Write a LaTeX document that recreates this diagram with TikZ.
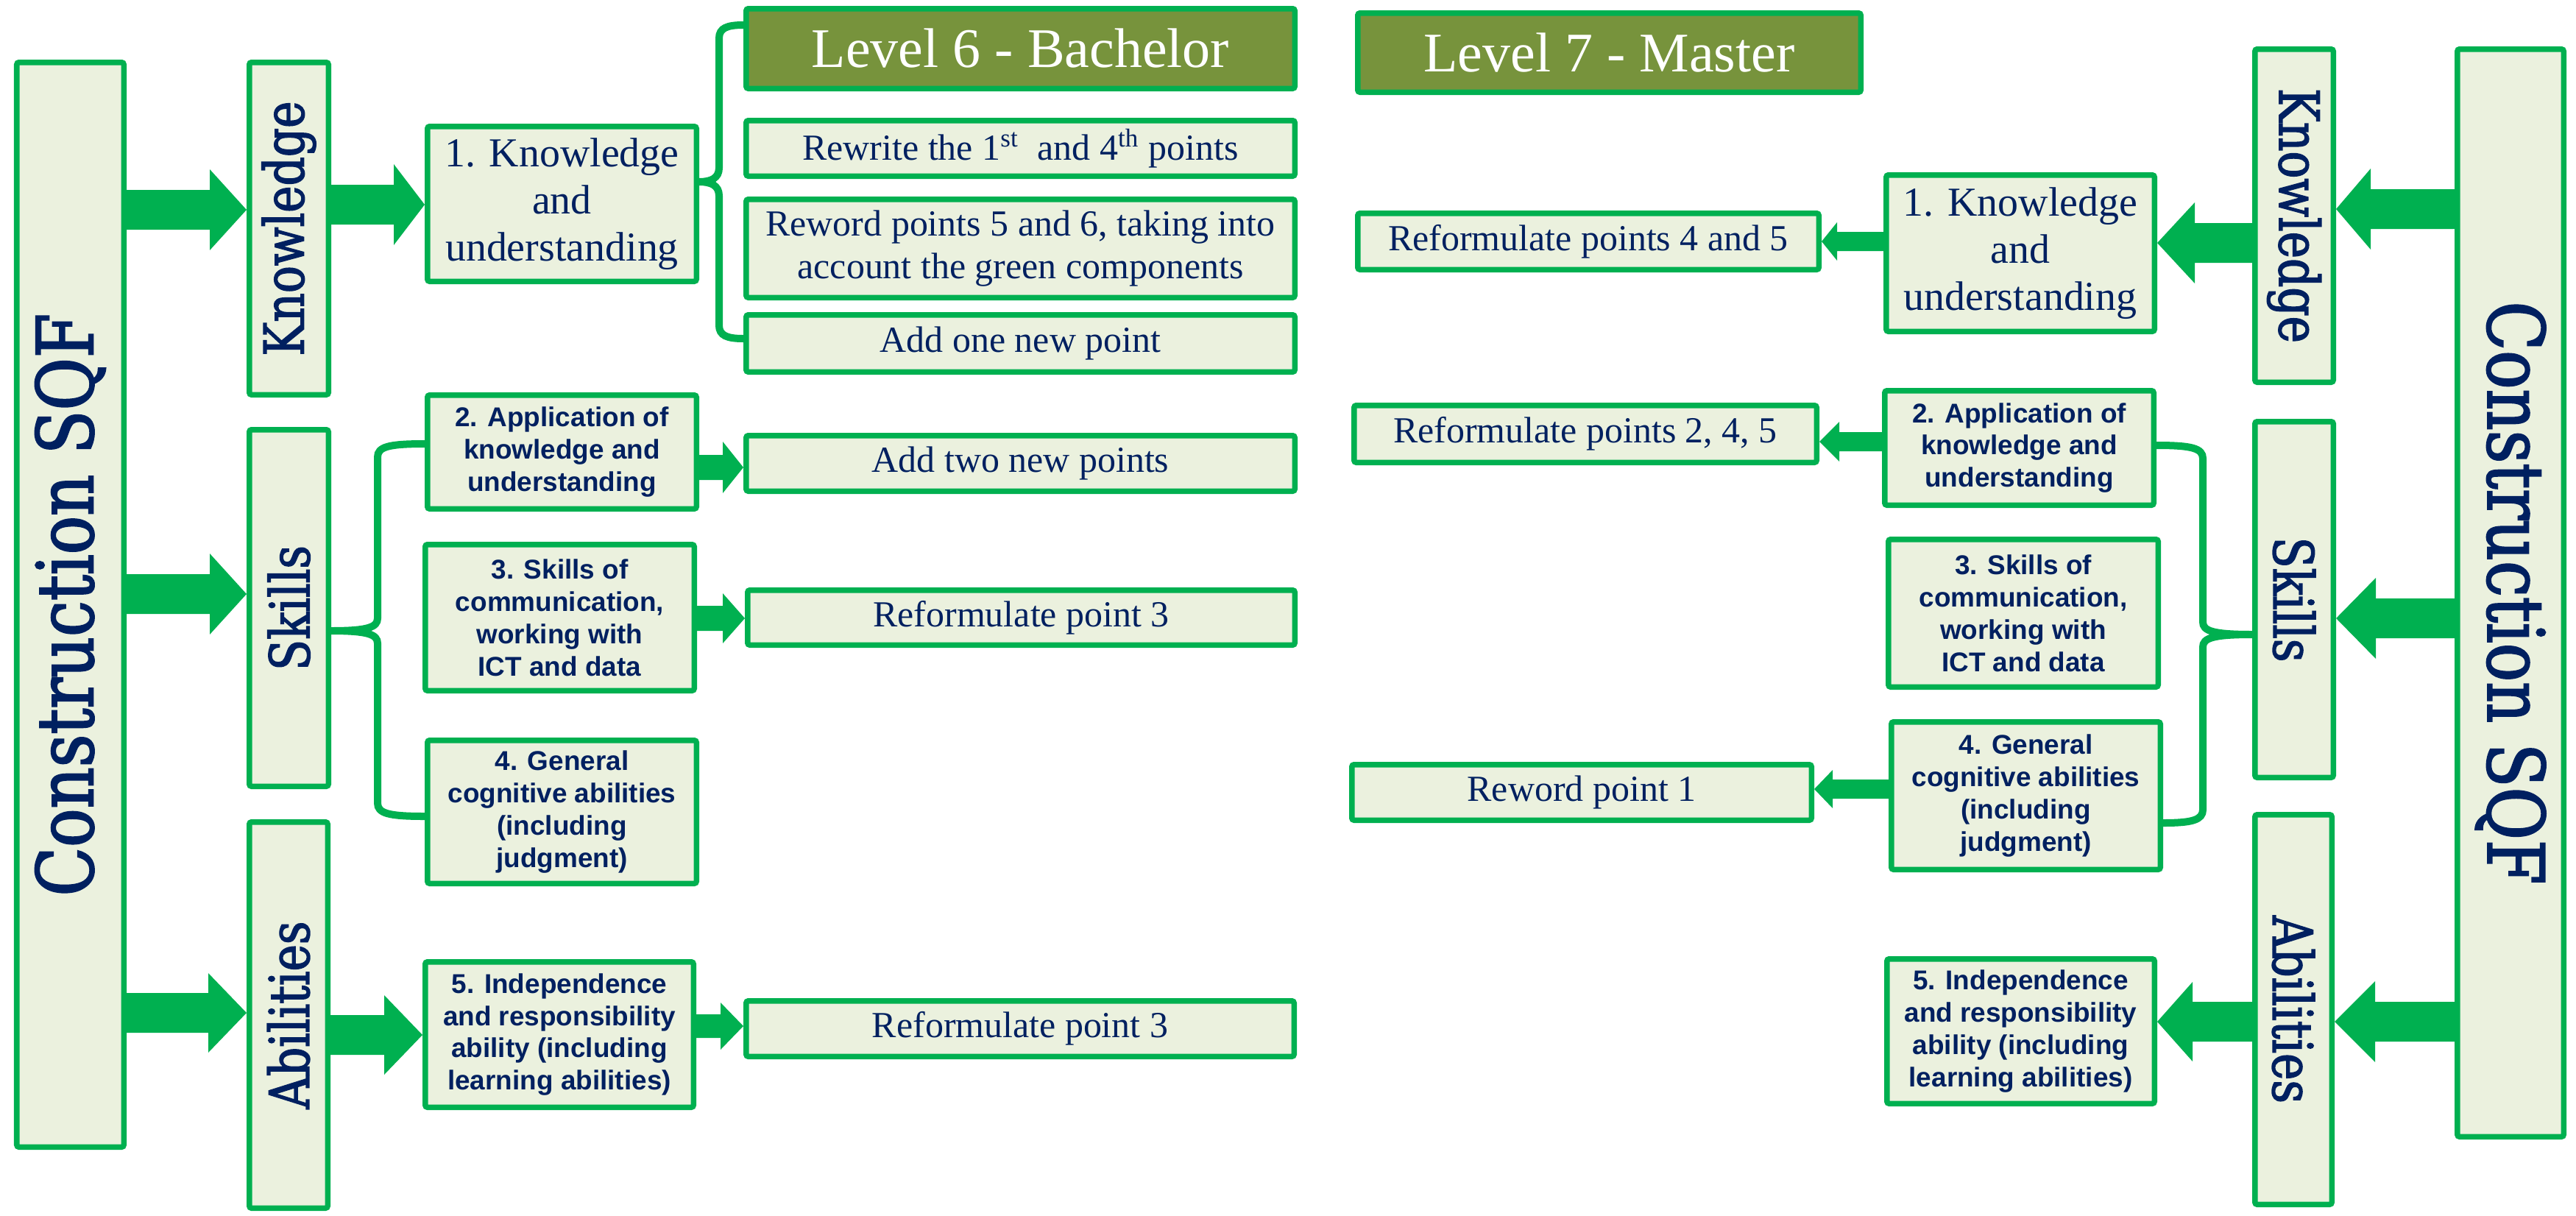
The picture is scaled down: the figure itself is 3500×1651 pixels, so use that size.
\documentclass[tikz,border=0pt]{standalone}
\usepackage{fontspec}
\setmainfont{Liberation Serif}
\newfontfamily\sansb{Liberation Sans}
\newfontfamily\slab{DejaVu Serif}[FakeStretch=0.82,FakeBold=2]
\usetikzlibrary{calc}
\definecolor{grn}{HTML}{00B050}
\definecolor{navy}{HTML}{002060}
\definecolor{pale}{HTML}{EBF1DE}
\definecolor{lvl}{HTML}{77933C}
\tikzset{
 box/.style={draw=grn, fill=pale, line width=0.075cm, rounded corners=0.03cm, inner sep=0pt, align=center, text=navy},
 lvlbox/.style={box, fill=lvl, text=white, font=\fontsize{21.6}{26}\selectfont},
 serif/.style={font=\fontsize{14.2}{16.5}\selectfont},
 kuf/.style={font=\fontsize{15.9}{18.2}\selectfont},
 sans/.style={font=\sansb\bfseries\fontsize{10.5}{12.5}\selectfont},
 brc/.style={draw=grn, line width=0.1cm},
}
\newcommand{\slabS}{\slab\fontsize{21.3}{24}\selectfont}
\newcommand{\slabL}{\slab\fontsize{30.2}{34}\selectfont}
\newcommand{\bx}[7][]{\node[box,#1,minimum width={(#5-#3-7.5)*0.01cm},minimum height={(#6-#4-7.5)*0.01cm}] (#2) at ({(#3+#5)/2},{(#4+#6)/2}) {#7};}
\newcommand{\barr}[6]{%
 \path (#1 |- 0,#3) coordinate (bs) (#2 |- 0,#3) coordinate (be);
 \fill[grn] ($(bs)+(0,-#4)$) -- ($(be)+({0-(#6)},-#4)$) -- ($(be)+({0-(#6)},-#5)$) -- (be) -- ($(be)+({0-(#6)},#5)$) -- ($(be)+({0-(#6)},#4)$) -- ($(bs)+(0,#4)$) -- cycle;}
\begin{document}
\begin{tikzpicture}[x=0.01cm,y=-0.01cm]
\useasboundingbox (0,0) rectangle (3500,1651);
% left side
\bx{CSQFL}{19}{81}{172}{1562}{\rotatebox{90}{\slabL Construction SQF}}
\bx{KnowL}{335}{81}{450}{540}{\rotatebox{90}{\slabS Knowledge}}
\bx{SkillsL}{335}{580}{450}{1072}{\rotatebox{90}{\slabS Skills}}
\bx{AbilL}{335}{1113}{449}{1645}{\rotatebox{90}{\slabS Abilities}}
\bx[kuf]{KUL}{577}{168}{950}{386}{1. Knowledge\\and\\understanding}
\bx[sans]{AppL}{577}{533}{950}{695}{2. Application of\\knowledge and\\understanding}
\bx[sans]{SkL}{574}{736}{947}{942}{3. Skills of\\communication,\\working with\\ICT and data}
\bx[sans]{GenL}{577}{1002}{950}{1204}{4. General\\cognitive abilities\\(including\\judgment)}
\bx[sans]{IndL}{574}{1303}{946}{1508}{5. Independence\\and responsibility\\ability (including\\learning abilities)}
\bx[lvlbox]{L6}{1010}{8}{1763}{124}{Level 6 - Bachelor}
\bx[serif]{RewL}{1010}{160}{1763}{243}{Rewrite the 1\textsuperscript{st}\ \ and 4\textsuperscript{th} points}
\bx[serif]{RwdL}{1010}{267}{1763}{408}{Reword points 5 and 6, taking into\\account the green components}
\bx[serif]{Add1}{1010}{424}{1763}{509}{Add one new point}
\bx[serif]{Add2}{1010}{588}{1763}{671}{Add two new points}
\bx[serif]{Ref3a}{1012}{798}{1763}{880}{Reformulate point 3}
\bx[serif]{Ref3b}{1010}{1356}{1762}{1439}{Reformulate point 3}
% right side
\bx[lvlbox]{L7}{1841}{14}{2532}{129}{Level 7 - Master}
\bx[serif]{Ref45}{1841}{286}{2475}{370}{Reformulate points 4 and 5}
\bx[kuf]{KUR}{2559}{234}{2931}{454}{1. Knowledge\\and\\understanding}
\bx{KnowR}{3060}{63}{3174}{523}{\rotatebox{-90}{\slabS Knowledge}}
\bx{CSQFR}{3335}{63}{3487}{1548}{\rotatebox{-90}{\slabL Construction SQF}}
\bx[serif]{Ref245}{1836}{547}{2472}{632}{Reformulate points 2, 4, 5}
\bx[sans]{AppR}{2557}{527}{2930}{690}{2. Application of\\knowledge and\\understanding}
\bx[sans]{SkR}{2562}{729}{2936}{937}{3. Skills of\\communication,\\working with\\ICT and data}
\bx[sans]{GenR}{2566}{977}{2939}{1185}{4. General\\cognitive abilities\\(including\\judgment)}
\bx[serif]{Rew1}{1833}{1035}{2465}{1118}{Reword point 1}
\bx{SkillsR}{3060}{569}{3174}{1060}{\rotatebox{-90}{\slabS Skills}}
\bx{AbilR}{3060}{1103}{3172}{1640}{\rotatebox{-90}{\slabS Abilities}}
\bx[sans]{IndR}{2560}{1299}{2931}{1503}{5. Independence\\and responsibility\\ability (including\\learning abilities)}
% block arrows (left, pointing right)
\barr{CSQFL.east}{KnowL.west}{285}{27}{55}{50}
\barr{KnowL.east}{KUL.west}{278}{27}{55}{42}
\barr{CSQFL.east}{SkillsL.west}{807}{27}{55}{50}
\barr{CSQFL.east}{AbilL.west}{1376}{27}{54}{52}
\barr{AbilL.east}{IndL.west}{1406}{27}{54}{52}
\barr{IndL.east}{Ref3b.west}{1394}{16}{32}{31}
\barr{AppL.east}{Add2.west}{635}{17}{35}{28}
\barr{SkL.east}{Ref3a.west}{840}{17}{34}{30}
% block arrows (right, pointing left)
\barr{CSQFR.west}{KnowR.east}{284}{27}{55}{-47}
\barr{KnowR.west}{KUR.east}{330}{27}{55}{-51}
\barr{KUR.west}{Ref45.east}{328}{13}{26}{-21}
\barr{CSQFR.west}{SkillsR.east}{840}{27}{55}{-54}
\barr{AppR.west}{Ref245.east}{600}{13}{27}{-27}
\barr{GenR.west}{Rew1.east}{1072}{13}{26}{-25}
\barr{CSQFR.west}{AbilR.east}{1388}{27}{55}{-55}
\barr{AbilR.west}{IndR.east}{1388}{27}{54}{-48}
% braces
\draw[brc] (L6.west |- 0,34) .. controls (988,34) and (977,38) .. (977,52) -- (977,228) .. controls (977,242) and (966,247) .. (KUL.east |- 0,247) .. controls (966,247) and (977,252) .. (977,266) -- (977,442) .. controls (977,456) and (988,460) .. (Add1.west |- 0,460);
\draw[brc] (AppL.west |- 0,603) .. controls (528,603) and (513,607) .. (513,621) -- (513,840) .. controls (513,852) and (500,857) .. (SkillsL.east |- 0,857) .. controls (500,857) and (513,862) .. (513,874) -- (513,1091) .. controls (513,1105) and (528,1109) .. (GenL.west |- 0,1109);
\draw[brc] (AppR.east |- 0,605) .. controls (2978,605) and (2993,609) .. (2993,623) -- (2993,845) .. controls (2993,857) and (3006,862) .. (SkillsR.west |- 0,862) .. controls (3006,862) and (2993,867) .. (2993,879) -- (2993,1100) .. controls (2993,1114) and (2978,1118) .. (GenR.east |- 0,1118);
\end{tikzpicture}
\end{document}
